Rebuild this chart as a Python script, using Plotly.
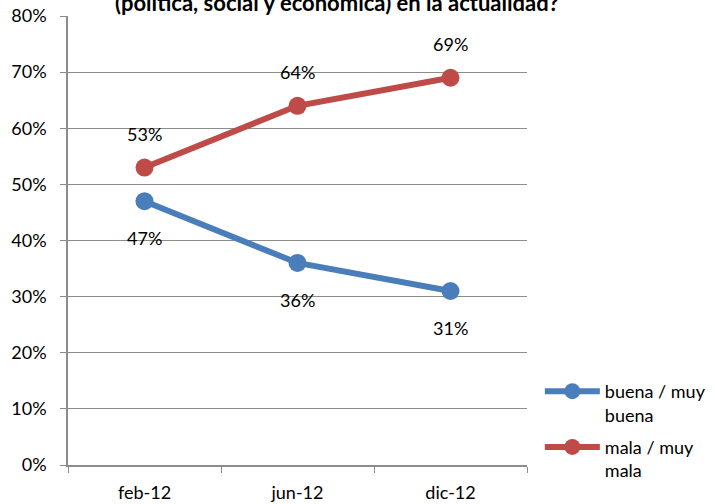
import plotly.graph_objects as go

categories = ["feb-12", "jun-12", "dic-12"]
buena = [0.47, 0.36, 0.31]
mala = [0.53, 0.64, 0.69]
series_names = ["buena / muy<br>buena", "mala / muy<br>mala"]
y_ticks = [0, 0.1, 0.2, 0.3, 0.4, 0.5, 0.6, 0.7, 0.8]
title_text = "(política, social y económica) en la actualidad?"

FONT = "Lato"
BLUE = "#4A7EBB"
RED = "#BE4B48"

fig = go.Figure()
fig.add_trace(go.Scatter(x=categories, y=buena, mode="lines+markers", name=series_names[0],
                         legendgroup="a",
                         line=dict(color=BLUE, width=6), marker=dict(size=18, color=BLUE)))
fig.add_trace(go.Scatter(x=categories, y=mala, mode="lines+markers", name=series_names[1],
                         legendgroup="b",
                         line=dict(color=RED, width=6), marker=dict(size=18, color=RED)))

for c, v in zip(categories, buena):
    fig.add_annotation(x=c, y=v, text=f"{round(v*100)}%", showarrow=False, yshift=-37,
                       font=dict(family=FONT, size=18, color="black"))
for c, v in zip(categories, mala):
    fig.add_annotation(x=c, y=v, text=f"{round(v*100)}%", showarrow=False, yshift=34,
                       font=dict(family=FONT, size=18, color="black"))

fig.add_annotation(xref="paper", yref="paper", x=0.585, y=1.0, yshift=-2, text="<b>" + title_text + "</b>",
                   showarrow=False, font=dict(family=FONT, size=22, color="black"),
                   xanchor="center", yanchor="bottom")

fig.update_xaxes(type="category", tickson="boundaries", ticks="outside", ticklen=6,
                 linecolor="#8C8C8C", linewidth=1.5, tickcolor="#8C8C8C", showgrid=False,
                 ticklabelstandoff=11, automargin=False,
                 tickfont=dict(family=FONT, size=18, color="black"), range=[-0.5, 2.5])
fig.update_yaxes(range=[0, 0.8], tickvals=y_ticks, tickformat=".0%", ticks="outside", ticklen=6,
                 linecolor="#8C8C8C", linewidth=1.5, tickcolor="#8C8C8C", showgrid=True,
                 gridcolor="#8C8C8C", gridwidth=1, zeroline=False, automargin=False,
                 ticklabelstandoff=10,
                 tickfont=dict(family=FONT, size=18, color="black"))

fig.update_layout(width=715, height=504, margin=dict(l=68, r=188, t=16, b=39, autoexpand=False),
                  plot_bgcolor="white", paper_bgcolor="white",
                  legend=dict(x=1.028, y=0.205, xanchor="left", yanchor="top",
                              font=dict(family=FONT, size=18, color="black"),
                              traceorder="grouped", tracegroupgap=6, itemwidth=55, valign="top"),
                  showlegend=True)

fig.write_html("out.html", config={"displayModeBar": False},
               post_script="document.body.style.margin='0';document.body.style.overflow='hidden';")
